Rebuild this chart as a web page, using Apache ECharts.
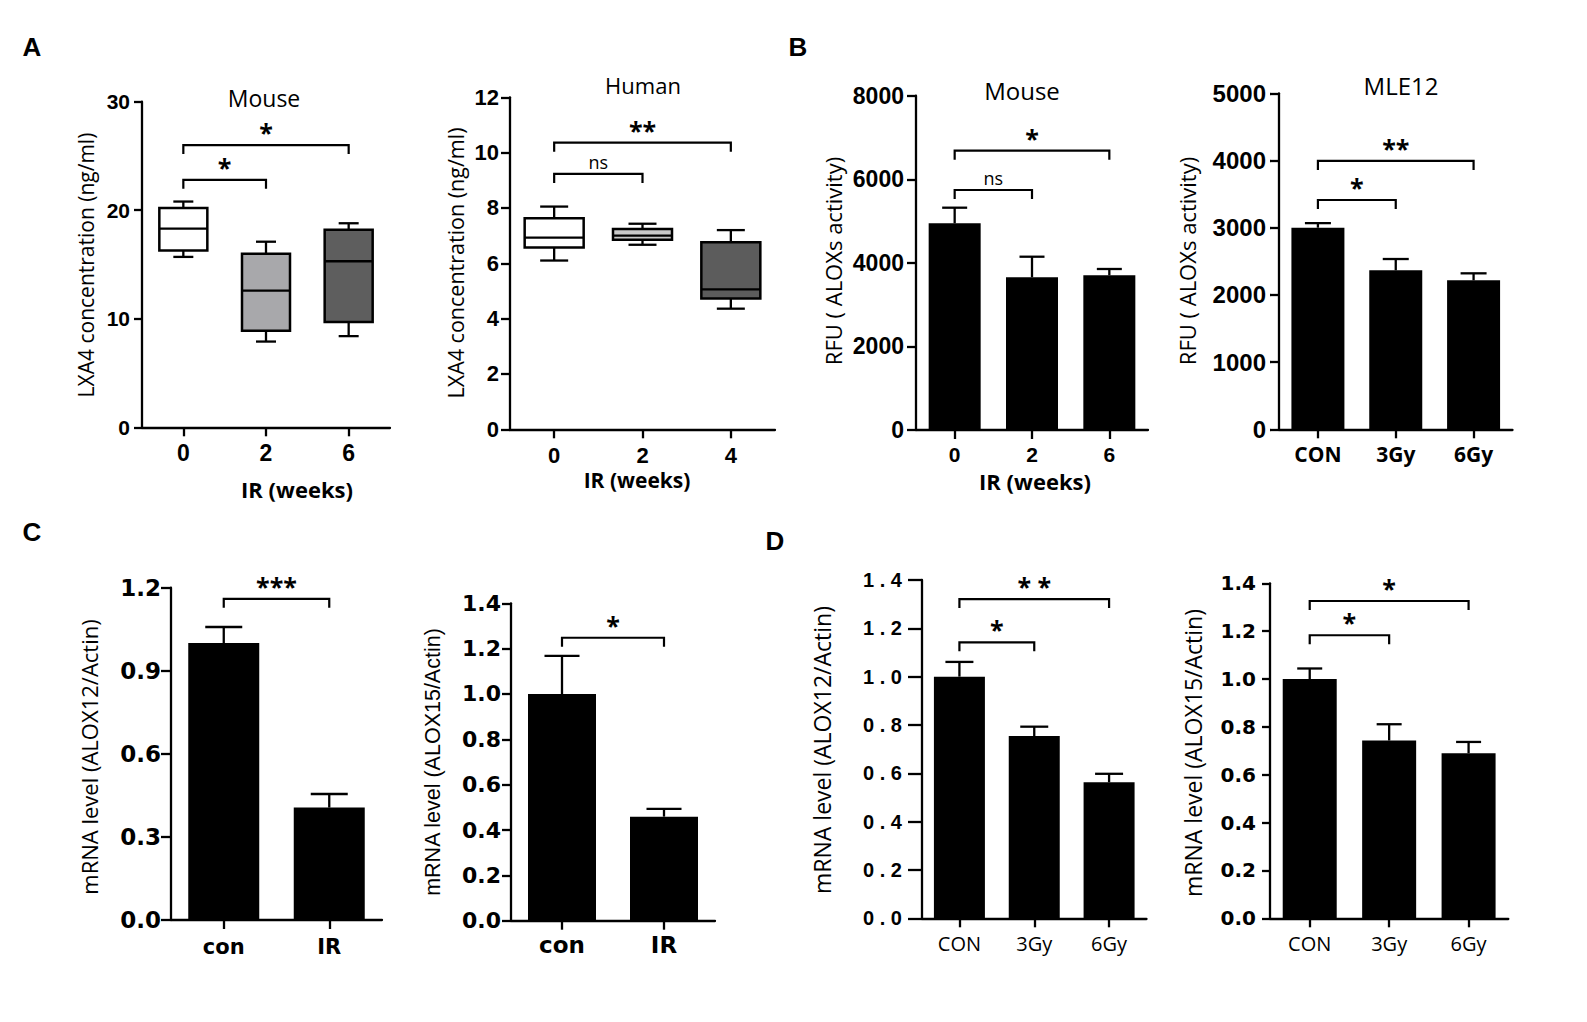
<!DOCTYPE html>
<html><head><meta charset="utf-8">
<script src="https://cdn.jsdelivr.net/npm/echarts@6/dist/echarts.min.js"></script>
<style>html,body{margin:0;padding:0;background:#fff}#c{width:1587px;height:1022px}</style>
</head><body><div id="c"></div>
<script>
// ---------------- DATA ----------------
const a1Categories = ['0', '2', '6'];
const a1Boxes = [            // [min, Q1, median, Q3, max]
  [15.7, 16.3, 18.3, 20.2, 20.8],
  [7.9, 8.9, 12.6, 16.0, 17.1],
  [8.4, 9.7, 15.3, 18.2, 18.8]
];
const a1Brackets = [[0, 1, 22.8, '*'], [0, 2, 26.0, '*']];

const a2Categories = ['0', '2', '4'];
const a2Boxes = [
  [6.1, 6.57, 6.93, 7.63, 8.05],
  [6.67, 6.85, 7.0, 7.24, 7.43],
  [4.36, 4.73, 5.06, 6.76, 7.2]
];
const a2Brackets = [[0, 1, 9.23, 'ns'], [0, 2, 10.36, '**']];

const b1Categories = ['0', '2', '6'];
const b1Means = [4946, 3654, 3702];
const b1Sem = [374, 493, 151];
const b1Brackets = [[0, 1, 5743, 'ns'], [0, 2, 6684, '*']];

const b2Categories = ['CON', '3Gy', '6Gy'];
const b2Means = [3000, 2366, 2217];
const b2Sem = [68, 168, 104];
const b2Brackets = [[0, 1, 3412, '*'], [0, 2, 3993, '**']];

const c1Categories = ['con', 'IR'];
const c1Means = [1.0, 0.406];
const c1Sem = [0.058, 0.049];
const c1Brackets = [[0, 1, 1.16, '***']];

const c2Categories = ['con', 'IR'];
const c2Means = [1.0, 0.459];
const c2Sem = [0.168, 0.034];
const c2Brackets = [[0, 1, 1.248, '*']];

const d1Categories = ['CON', '3Gy', '6Gy'];
const d1Means = [1.0, 0.754, 0.563];
const d1Sem = [0.061, 0.039, 0.035];
const d1Brackets = [[0, 1, 1.142, '*'], [0, 2, 1.321, '* *']];

const d2Categories = ['CON', '3Gy', '6Gy'];
const d2Means = [1.0, 0.743, 0.69];
const d2Sem = [0.044, 0.068, 0.047];
const d2Brackets = [[0, 1, 1.183, '*'], [0, 2, 1.326, '*']];

// ---------------- STYLE / LAYOUT ----------------
const ARIAL = "'Liberation Sans', Arial, sans-serif";
const DEJA = "'DejaVu Sans', Verdana, sans-serif";
const SANS = "'Open Sans', 'Noto Sans', sans-serif";
const fmt1 = v => Number(v).toFixed(1);
const fmtSpaced = v => Number(v).toFixed(1).split('').join(' ');
const fmtInt = v => String(Math.round(v));

const panels = [
  { kind: 'box', cats: a1Categories, boxes: a1Boxes, brackets: a1Brackets, fills: ['#ffffff', '#a8a8ab', '#5e5e5e'],
    grid: { left: 142, top: 101.7, width: 248, height: 325.6 }, max: 30, interval: 10,
    yTick: 8, yMargin: 12, yFont: 21, yFamily: ARIAL, yFmt: fmtInt,
    xFont: 23, xFamily: ARIAL, xWeight: 'bold', xMargin: 14, xTick: 9, markW: 48, capW: 20 },
  { kind: 'box', cats: a2Categories, boxes: a2Boxes, brackets: a2Brackets, fills: ['#ffffff', '#cacaca', '#5c5c5c'],
    grid: { left: 510, top: 97.3, width: 265, height: 332 }, max: 12, interval: 2,
    yTick: 9, yMargin: 11, yFont: 22, yFamily: ARIAL, yFmt: fmtInt,
    xFont: 22, xFamily: ARIAL, xWeight: 'bold', xMargin: 15, xTick: 9, markW: 59, capW: 28 },
  { kind: 'bar', cats: b1Categories, means: b1Means, sem: b1Sem, brackets: b1Brackets,
    grid: { left: 916, top: 95.7, width: 232, height: 334.3 }, max: 8000, interval: 2000,
    yTick: 9, yMargin: 12, yFont: 23, yFamily: ARIAL, yFmt: fmtInt,
    xFont: 21, xFamily: ARIAL, xWeight: 'bold', xMargin: 14, xTick: 9, markW: 52, capW: 25 },
  { kind: 'bar', cats: b2Categories, means: b2Means, sem: b2Sem, brackets: b2Brackets,
    grid: { left: 1279, top: 93.3, width: 233.5, height: 336 }, max: 5000, interval: 1000,
    yTick: 9, yMargin: 13, yFont: 24, yFamily: ARIAL, yFmt: fmtInt,
    xFont: 21, xFamily: SANS, xWeight: 'bold', xMargin: 14, xTick: 9, markW: 53, capW: 26 },
  { kind: 'bar', cats: c1Categories, means: c1Means, sem: c1Sem, brackets: c1Brackets,
    grid: { left: 171, top: 587.7, width: 211, height: 332.3 }, max: 1.2, interval: 0.3,
    yTick: 10, yMargin: 10, yFont: 23, yFamily: DEJA, yFmt: fmt1,
    xFont: 21, xFamily: DEJA, xWeight: 'bold', xMargin: 16, xTick: 9, markW: 71, capW: 37 },
  { kind: 'bar', cats: c2Categories, means: c2Means, sem: c2Sem, brackets: c2Brackets,
    grid: { left: 511, top: 603.3, width: 204, height: 317.4 }, max: 1.4, interval: 0.2,
    yTick: 9, yMargin: 10, yFont: 22, yFamily: DEJA, yFmt: fmt1,
    xFont: 23, xFamily: DEJA, xWeight: 'bold', xMargin: 13, xTick: 9, markW: 68, capW: 35 },
  { kind: 'bar', cats: d1Categories, means: d1Means, sem: d1Sem, brackets: d1Brackets,
    grid: { left: 922, top: 580, width: 224.5, height: 338.3 }, max: 1.4, interval: 0.2,
    yTick: 14, yMargin: 20, yFont: 20, yFamily: ARIAL, yFmt: fmtSpaced,
    xFont: 20, xFamily: SANS, xWeight: 'normal', xMargin: 15, xTick: 9, markW: 51, capW: 28 },
  { kind: 'bar', cats: d2Categories, means: d2Means, sem: d2Sem, brackets: d2Brackets,
    grid: { left: 1270, top: 583.3, width: 238.3, height: 335 }, max: 1.4, interval: 0.2,
    yTick: 8, yMargin: 14, yFont: 20, yFamily: DEJA, yFmt: fmt1,
    xFont: 20, xFamily: SANS, xWeight: 'normal', xMargin: 15, xTick: 9, markW: 54, capW: 25 }
];

const texts = [
  // panel letters
  { t: 'A', x: 32, y: 47, font: 'bold 26px ' + ARIAL },
  { t: 'B', x: 798, y: 47, font: 'bold 26px ' + ARIAL },
  { t: 'C', x: 32, y: 532, font: 'bold 26px ' + ARIAL },
  { t: 'D', x: 775, y: 541, font: 'bold 26px ' + ARIAL },
  // titles
  { t: 'Mouse', x: 264, y: 98, font: '23px ' + SANS },
  { t: 'Human', x: 643, y: 85, font: '22px ' + SANS },
  { t: 'Mouse', x: 1022, y: 90, font: '24px ' + SANS },
  { t: 'MLE12', x: 1401, y: 85, font: '24px ' + SANS },
  // x-axis names
  { t: 'IR (weeks)', x: 297, y: 489, font: 'bold 22px ' + SANS },
  { t: 'IR (weeks)', x: 637, y: 480, font: 'bold 21px ' + SANS },
  { t: 'IR (weeks)', x: 1035, y: 481, font: 'bold 22px ' + SANS },
  // y-axis names
  { t: 'LXA4 concentration (ng/ml)', x: 86, y: 265, font: '21px ' + SANS, r: true },
  { t: 'LXA4 concentration (ng/ml)', x: 455, y: 263, font: '21.5px ' + SANS, r: true },
  { t: 'RFU ( ALOXs activity)', x: 833, y: 261, font: '22px ' + SANS, r: true },
  { t: 'RFU ( ALOXs activity)', x: 1187, y: 261, font: '22px ' + SANS, r: true },
  { t: 'mRNA level (ALOX12/Actin)', x: 89, y: 757, font: '22px ' + SANS, r: true },
  { t: 'mRNA level (ALOX15/Actin)', x: 433, y: 762, font: '21.5px ' + ARIAL, r: true },
  { t: 'mRNA level (ALOX12/Actin)', x: 822, y: 750, font: '23px ' + SANS, r: true },
  { t: 'mRNA level (ALOX15/Actin)', x: 1193, y: 753, font: '23px ' + SANS, r: true }
];

// ---------------- RENDERERS ----------------
function boxRender(boxes, fills, boxW, capW) {
  return function (params, api) {
    const i = params.dataIndex;
    const pMin = api.coord([api.value(0), api.value(1)]);
    const pQ1 = api.coord([api.value(0), api.value(2)]);
    const pMed = api.coord([api.value(0), api.value(3)]);
    const pQ3 = api.coord([api.value(0), api.value(4)]);
    const pMax = api.coord([api.value(0), api.value(5)]);
    const x = pMin[0];
    const ls = { stroke: '#000', lineWidth: 2.3 };
    return { type: 'group', children: [
      { type: 'line', shape: { x1: x, y1: pMax[1], x2: x, y2: pQ3[1] }, style: ls },
      { type: 'line', shape: { x1: x, y1: pQ1[1], x2: x, y2: pMin[1] }, style: ls },
      { type: 'line', shape: { x1: x - capW / 2, y1: pMax[1], x2: x + capW / 2, y2: pMax[1] }, style: ls },
      { type: 'line', shape: { x1: x - capW / 2, y1: pMin[1], x2: x + capW / 2, y2: pMin[1] }, style: ls },
      { type: 'rect', shape: { x: x - boxW / 2, y: pQ3[1], width: boxW, height: pQ1[1] - pQ3[1] },
        style: { fill: fills[i], stroke: '#000', lineWidth: 2.5 } },
      { type: 'line', shape: { x1: x - boxW / 2, y1: pMed[1], x2: x + boxW / 2, y2: pMed[1] }, style: ls }
    ] };
  };
}

function errRender(capW) {
  return function (params, api) {
    const x = api.value(0), m = api.value(1), s = api.value(2);
    const p0 = api.coord([x, m]);
    const p1 = api.coord([x, m + s]);
    const ls = { stroke: '#000', lineWidth: 2.3 };
    return { type: 'group', children: [
      { type: 'line', shape: { x1: p0[0], y1: p0[1], x2: p1[0], y2: p1[1] }, style: ls },
      { type: 'line', shape: { x1: p1[0] - capW / 2, y1: p1[1], x2: p1[0] + capW / 2, y2: p1[1] }, style: ls }
    ] };
  };
}

function bracketRender(list) {
  const drop = 9;
  return function (params, api) {
    const lab = list[params.dataIndex][3];
    const p1 = api.coord([api.value(0), api.value(2)]);
    const p2 = api.coord([api.value(1), api.value(2)]);
    const isNs = lab === 'ns';
    return { type: 'group', children: [
      { type: 'polyline', shape: { points: [[p1[0], p1[1] + drop], [p1[0], p1[1]], [p2[0], p2[1]], [p2[0], p2[1] + drop]] },
        style: { stroke: '#000', lineWidth: 2.2, fill: 'none' } },
      { type: 'text', style: { text: lab, x: (p1[0] + p2[0]) / 2, y: p1[1] - (isNs ? 12 : 13),
        align: 'center', verticalAlign: 'middle', fill: '#000',
        font: isNs ? ('18px ' + SANS) : ('bold 25px ' + SANS) } }
    ] };
  };
}

// ---------------- OPTION ----------------
const option = { backgroundColor: '#fff', animation: false, grid: [], xAxis: [], yAxis: [], series: [], graphic: [] };

panels.forEach((p, k) => {
  option.grid.push(Object.assign({ containLabel: false }, p.grid));
  option.xAxis.push({
    type: 'category', gridIndex: k, data: p.cats, boundaryGap: true,
    axisLine: { show: true, lineStyle: { color: '#000', width: 2.3 } },
    axisTick: { show: true, alignWithLabel: true, length: p.xTick, lineStyle: { color: '#000', width: 2.3 } },
    axisLabel: { color: '#000', fontSize: p.xFont, fontFamily: p.xFamily, fontWeight: p.xWeight, margin: p.xMargin },
    splitLine: { show: false }
  });
  option.yAxis.push({
    type: 'value', gridIndex: k, min: 0, max: p.max, interval: p.interval,
    axisLine: { show: true, lineStyle: { color: '#000', width: 2.3 } },
    axisTick: { show: true, length: p.yTick, lineStyle: { color: '#000', width: 2.3 } },
    axisLabel: { color: '#000', fontSize: p.yFont, fontFamily: p.yFamily, fontWeight: 'bold', margin: p.yMargin, formatter: p.yFmt },
    splitLine: { show: false }
  });
  if (p.kind === 'box') {
    option.series.push({
      type: 'custom', xAxisIndex: k, yAxisIndex: k, clip: false, z: 3,
      data: p.boxes.map((b, i) => [i].concat(b)),
      encode: { x: 0, y: [1, 2, 3, 4, 5] },
      renderItem: boxRender(p.boxes, p.fills, p.markW, p.capW)
    });
  } else {
    option.series.push({
      type: 'bar', xAxisIndex: k, yAxisIndex: k, data: p.means, barWidth: p.markW,
      itemStyle: { color: '#000' }, z: 2
    });
    option.series.push({
      type: 'custom', xAxisIndex: k, yAxisIndex: k, clip: false, z: 3,
      data: p.means.map((m, i) => [i, m, p.sem[i]]),
      encode: { x: 0, y: [1, 2] },
      renderItem: errRender(p.capW)
    });
  }
  option.series.push({
    type: 'custom', xAxisIndex: k, yAxisIndex: k, clip: false, z: 4,
    data: p.brackets.map(b => [b[0], b[1], b[2]]),
    encode: { x: [0, 1], y: 2 },
    renderItem: bracketRender(p.brackets)
  });
});

texts.forEach(t => {
  option.graphic.push({
    type: 'text', x: t.x, y: t.y, rotation: t.r ? Math.PI / 2 : 0, z: 10,
    style: { text: t.t, font: t.font, fill: '#000', align: 'center', verticalAlign: 'middle',
      textAlign: 'center', textVerticalAlign: 'middle' }
  });
});

const chart = echarts.init(document.getElementById('c'), null, { renderer: 'svg', width: 1587, height: 1022 });
chart.setOption(option);
</script>
</body></html>
